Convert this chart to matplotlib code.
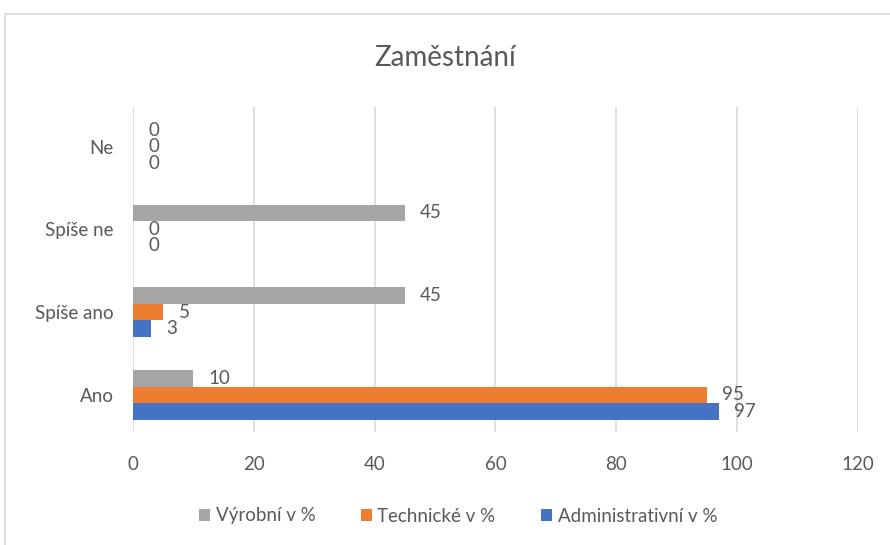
import matplotlib.pyplot as plt
import numpy as np
from matplotlib.patches import Rectangle

plt.rcParams['font.family'] = ['Lato', 'DejaVu Sans']

categories = ["Ano", "Spíše ano", "Spíše ne", "Ne"]
admin = [97, 3, 0, 0]
technicke = [95, 5, 0, 0]
vyrobni = [10, 45, 45, 0]

series = [
    ("Administrativní v %", admin, "#4472c4"),
    ("Technické v %", technicke, "#ed7d31"),
    ("Výrobní v %", vyrobni, "#a5a5a5"),
]

text_col = "#595959"

fig = plt.figure(figsize=(8.9, 5.45), dpi=100)
ax = fig.add_axes([0.1494, 0.2073, 0.8146, 0.5964])

# chart border
fig.patches.append(Rectangle((5 / 890, -0.1), 1.2, 1 - 14 / 545 + 0.1,
                             transform=fig.transFigure, fill=False,
                             edgecolor="#d9d9d9", linewidth=1.2))

y = np.arange(len(categories))
h = 0.2
bars = []
for i, (name, vals, col) in enumerate(series):
    b = ax.barh(y + (i - 1) * h, vals, height=h, color=col, label=name, zorder=3)
    bars.append(b)
    for yy, v in zip(y + (i - 1) * h, vals):
        ax.annotate(str(v), (v, yy), xytext=(11, 0), textcoords="offset points",
                    va="center", ha="left", fontsize=13.5, color=text_col)

ax.set_xlim(0, 120)
ax.set_ylim(-0.45, 3.48)
ax.set_xticks(range(0, 121, 20))
ax.set_yticks(y)
ax.set_yticklabels(categories)
ax.tick_params(axis="both", length=0, labelsize=13.5, labelcolor=text_col)
ax.tick_params(axis="x", pad=17)
ax.tick_params(axis="y", pad=14)
ax.grid(axis="x", color="#d9d9d9", linewidth=1.2, zorder=0)
for s in ax.spines.values():
    s.set_visible(False)

fig.suptitle("Zaměstnání", y=1 - 58 / 545, va="center", fontsize=20, color=text_col)

handles = [bars[2], bars[1], bars[0]]
fig.legend(handles, [series[2][0], series[1][0], series[0][0]],
           loc="center", bbox_to_anchor=(458 / 890, 1 - 516 / 545), ncol=3,
           frameon=False, fontsize=13.5, labelcolor=text_col, handlelength=0.6,
           handleheight=0.6, handletextpad=0.3, columnspacing=2.4)

fig.savefig("out.png", dpi=100)
